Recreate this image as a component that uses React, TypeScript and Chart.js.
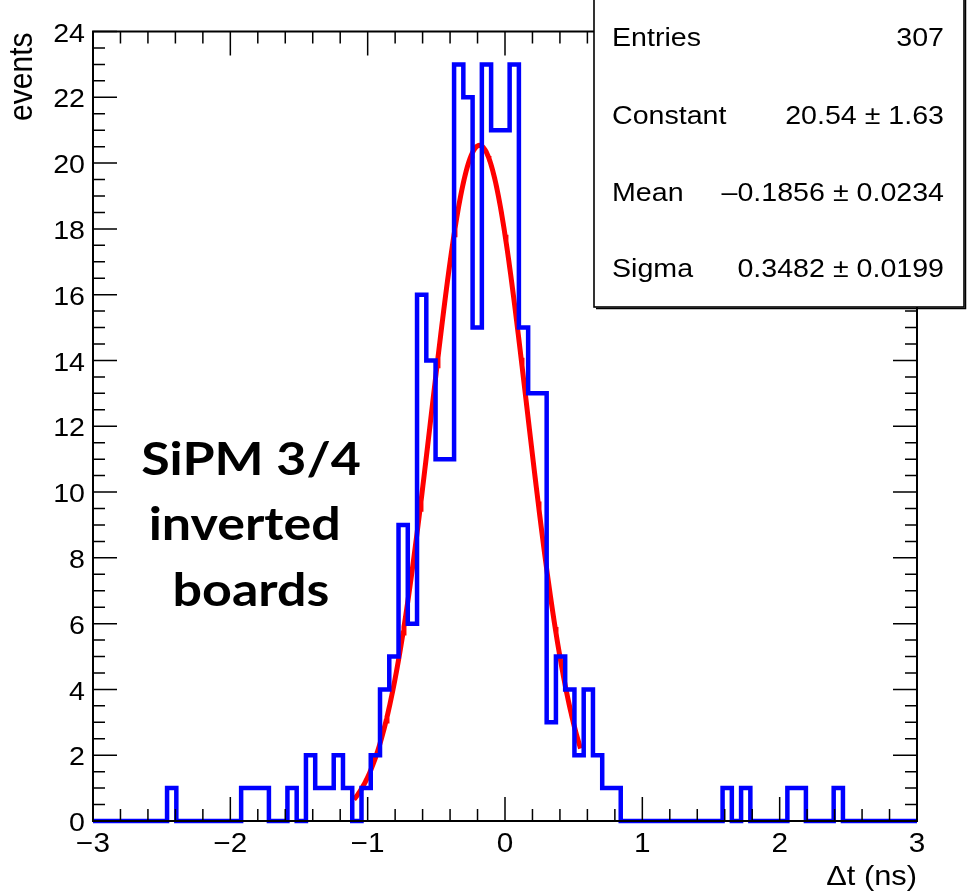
import React, { useEffect, useRef } from "react";
import { Chart, registerables } from "chart.js";

Chart.register(...registerables);

// ---------------- data ----------------
const X_MIN = -3;
const X_MAX = 3;
const N_BINS = 89;
const Y_MIN = 0;
const Y_MAX = 24;

// events per bin (89 bins between -3 and 3 ns)
const binCounts = [
  0, 0, 0, 0, 0, 0, 0, 0, 1, 0,
  0, 0, 0, 0, 0, 0, 1, 1, 1, 0,
  0, 1, 0, 2, 1, 1, 2, 1, 0, 1,
  2, 4, 5, 9, 6, 16, 14, 11, 11, 23,
  22, 15, 23, 21, 21, 23, 15, 13, 13, 3,
  5, 4, 2, 4, 2, 1, 1, 0, 0, 0,
  0, 0, 0, 0, 0, 0, 0, 0, 1, 0,
  1, 0, 0, 0, 0, 1, 1, 0, 0, 0,
  1, 0, 0, 0, 0, 0, 0, 0, 0,
];

const X_TICK_LABELS = [-3, -2, -1, 0, 1, 2, 3];
const Y_TICK_LABELS = [0, 2, 4, 6, 8, 10, 12, 14, 16, 18, 20, 22, 24];

// Gaussian fit parameters (from the stats box)
const FIT_CONSTANT = 20.54;
const FIT_MEAN = -0.1856;
const FIT_SIGMA = 0.3482;
const FIT_RANGE = [-1.1, 0.55];

const STATS_LABELS = ["Entries", "Constant", "Mean", "Sigma"];
const STATS_VALUES = [
  "307",
  "20.54 \u00b1 1.63",
  "\u20130.1856 \u00b1 0.0234",
  "0.3482 \u00b1 0.0199",
];

const X_TITLE = "\u0394t (ns)";
const Y_TITLE = "events";
const NOTE_LINES = ["SiPM 3/4", "inverted ", "boards"];

// ---------------- helpers ----------------
const ROOT_FONT = '"Liberation Sans", Arial, Helvetica, sans-serif';
const SX = 1.1; // horizontal stretch of the original picture

function fmtTick(v: number): string {
  return v < 0 ? "\u2212" + Math.abs(v) : String(v);
}

function drawText(
  ctx: CanvasRenderingContext2D,
  text: string,
  x: number,
  y: number,
  align: CanvasTextAlign,
  font: string,
  sx: number,
  baseline: CanvasTextBaseline = "alphabetic",
  rotate = 0
) {
  ctx.save();
  ctx.translate(x, y);
  ctx.scale(sx, 1);
  if (rotate) ctx.rotate(rotate);
  ctx.font = font;
  ctx.textAlign = align;
  ctx.textBaseline = baseline;
  ctx.fillStyle = "#000";
  ctx.fillText(text, 0, 0);
  ctx.restore();
}

const rootPlugin = {
  id: "rootDecor",
  afterDraw(chart: any) {
    const ctx: CanvasRenderingContext2D = chart.ctx;
    const xs = chart.scales.x;
    const ys = chart.scales.y;
    const { left, right, top, bottom } = chart.chartArea;

    ctx.save();
    // ticks (inside, on all four sides)
    ctx.strokeStyle = "#000";
    ctx.lineWidth = 1.5;
    ctx.beginPath();
    const nx = Math.round((X_MAX - X_MIN) / 0.2);
    for (let i = 0; i <= nx; i++) {
      const v = X_MIN + i * 0.2;
      const px = xs.getPixelForValue(v);
      const len = i % 5 === 0 ? 24 : 12;
      ctx.moveTo(px, bottom);
      ctx.lineTo(px, bottom - len);
      ctx.moveTo(px, top);
      ctx.lineTo(px, top + len);
    }
    const ny = Math.round((Y_MAX - Y_MIN) / 0.5);
    for (let i = 0; i <= ny; i++) {
      const v = Y_MIN + i * 0.5;
      const py = ys.getPixelForValue(v);
      const len = i % 4 === 0 ? 24 : 12;
      ctx.moveTo(left, py);
      ctx.lineTo(left + len, py);
      ctx.moveTo(right, py);
      ctx.lineTo(right - len, py);
    }
    ctx.stroke();

    // frame
    ctx.lineWidth = 2;
    ctx.strokeRect(left, top, right - left, bottom - top);

    // tick labels
    const labelFont = `26px ${ROOT_FONT}`;
    for (const v of X_TICK_LABELS) {
      drawText(ctx, fmtTick(v), xs.getPixelForValue(v), bottom + 31, "center", `27px ${ROOT_FONT}`, SX);
    }
    for (const v of Y_TICK_LABELS) {
      drawText(ctx, fmtTick(v), left - 8, ys.getPixelForValue(v) + 3, "right", labelFont, SX, "middle");
    }

    // axis titles
    drawText(ctx, X_TITLE, right, bottom + 64, "right", `28px ${ROOT_FONT}`, SX);
    drawText(ctx, Y_TITLE, 32, top + 1, "right", `30px ${ROOT_FONT}`, SX, "alphabetic", -Math.PI / 2);

    // annotation
    const noteFont = `bold 46px Lato, "Open Sans", sans-serif`;
    const noteBase = [475, 540, 606];
    NOTE_LINES.forEach((t, i) => drawText(ctx, t, 251, noteBase[i], "center", noteFont, 1.13));

    // stats box
    const bx0 = 594, by0 = -5, bx1 = 964, by1 = 307;
    ctx.fillStyle = "#fff";
    ctx.fillRect(bx0, by0, bx1 - bx0, by1 - by0);
    ctx.strokeStyle = "#000";
    ctx.lineWidth = 1.6;
    ctx.strokeRect(bx0, by0, bx1 - bx0, by1 - by0);
    ctx.lineWidth = 1.5;
    ctx.beginPath();
    ctx.moveTo(bx0 + 2, by1 + 1.5);
    ctx.lineTo(bx1 + 1.5, by1 + 1.5);
    ctx.lineTo(bx1 + 1.5, by0);
    ctx.stroke();
    const statsFont = `26px ${ROOT_FONT}`;
    const statsBase = [46, 124, 201, 277];
    STATS_LABELS.forEach((t, i) => drawText(ctx, t, 612, statsBase[i], "left", statsFont, SX));
    STATS_VALUES.forEach((t, i) => drawText(ctx, t, 944, statsBase[i], "right", statsFont, SX));

    ctx.restore();
  },
};

export default function App() {
  const canvasRef = useRef<HTMLCanvasElement | null>(null);

  useEffect(() => {
    const canvas = canvasRef.current;
    if (!canvas) return;

    const binWidth = (X_MAX - X_MIN) / N_BINS;
    const histPoints = binCounts.map((c, k) => ({ x: X_MIN + k * binWidth, y: c }));
    histPoints.push({ x: X_MAX, y: binCounts[binCounts.length - 1] });

    const fitPoints: { x: number; y: number }[] = [];
    const nFit = 240;
    for (let i = 0; i <= nFit; i++) {
      const x = FIT_RANGE[0] + ((FIT_RANGE[1] - FIT_RANGE[0]) * i) / nFit;
      const z = (x - FIT_MEAN) / FIT_SIGMA;
      fitPoints.push({ x, y: FIT_CONSTANT * Math.exp(-0.5 * z * z) });
    }

    const chart = new Chart(canvas, {
      type: "scatter",
      data: {
        datasets: [
          {
            data: histPoints,
            showLine: true,
            stepped: "before",
            borderColor: "#0000ff",
            borderWidth: 4.5,
            pointRadius: 0,
            fill: false,
            clip: false,
          } as any,
          {
            data: fitPoints,
            showLine: true,
            borderColor: "#ff0000",
            borderWidth: 5,
            pointRadius: 0,
            tension: 0,
            fill: false,
          } as any,
        ],
      },
      options: {
        animation: false,
        responsive: false,
        devicePixelRatio: 1,
        events: [],
        layout: { padding: { left: 93, right: 51, top: 31.5, bottom: 73 } },
        plugins: { legend: { display: false }, tooltip: { enabled: false } },
        scales: {
          x: { type: "linear", min: X_MIN, max: X_MAX, display: false },
          y: { type: "linear", min: Y_MIN, max: Y_MAX, display: false },
        },
      },
      plugins: [rootPlugin],
    });
    return () => chart.destroy();
  }, []);

  return (
    <div style={{ position: "fixed", left: 0, top: 0, width: 968, height: 894, background: "#fff" }}>
      <canvas ref={canvasRef} width={968} height={894} style={{ width: 968, height: 894, display: "block" }} />
    </div>
  );
}
